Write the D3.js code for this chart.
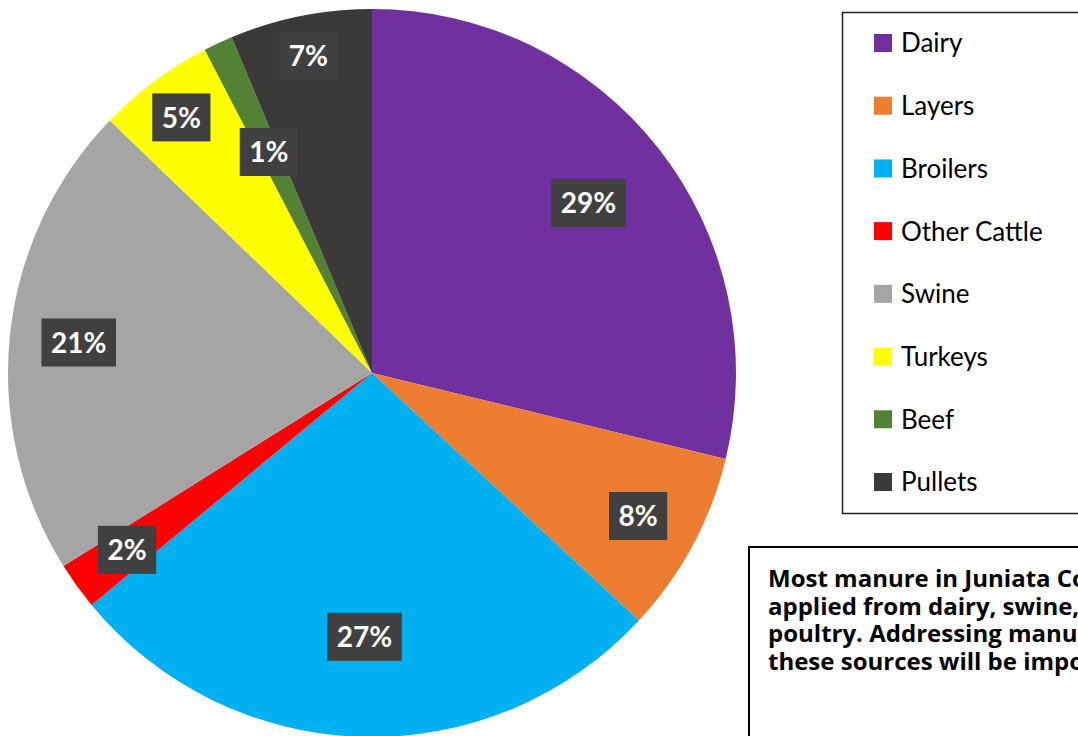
<!DOCTYPE html>
<html>
<head>
<meta charset="utf-8">
<script src="https://cdn.jsdelivr.net/npm/d3@7"></script>
<style>
html,body{margin:0;padding:0;background:#fff;overflow:hidden;}
svg{display:block;}
</style>
</head>
<body>
<svg id="chart" width="1078" height="736"></svg>
<script>
// ---- data ----
const categories = ["Dairy","Layers","Broilers","Other Cattle","Swine","Turkeys","Beef","Pullets"];
const values = [28.8, 8.1, 27.1, 2.1, 21.1, 5.2, 1.3, 6.3];
const percentLabels = ["29%","8%","27%","2%","21%","5%","1%","7%"];
const colors = ["#7030A0","#ED7D31","#00B0F0","#FF0000","#A5A5A5","#FFFF00","#548235","#3B3A39"];
const noteLines = [
  "Most manure in Juniata County is",
  "applied from dairy, swine, and",
  "poultry. Addressing manure from",
  "these sources will be important."
];

// ---- layout ----
const cx = 372, cy = 373, R = 364;
const labelFrac = [0.756, 0.83, 0.725, 0.83, 0.81, 0.876, 0.67, 0.888];
const font = "Lato, 'Open Sans', sans-serif";
const noteFont = "'Open Sans', Lato, sans-serif";

const svg = d3.select("#chart");
const g = svg.append("g").attr("transform", `translate(${cx},${cy})`);

const data = categories.map((c,i)=>({name:c, value:values[i], label:percentLabels[i], color:colors[i], i}));
const pie = d3.pie().sort(null).value(d=>d.value).startAngle(0).endAngle(2*Math.PI);
const arcs = pie(data);
const arc = d3.arc().innerRadius(0).outerRadius(R);

g.selectAll("path.slice").data(arcs).join("path")
  .attr("class","slice")
  .attr("d", arc)
  .attr("fill", d=>d.data.color);

// labels
const lab = g.selectAll("g.lab").data(arcs).join("g").attr("class","lab")
  .attr("transform", d=>{
    const r = R*labelFrac[d.data.i];
    const la = d3.arc().innerRadius(r).outerRadius(r);
    const [x,y] = la.centroid(d);
    return `translate(${x},${y})`;
  });
lab.append("rect")
  .attr("fill","#404040")
  .attr("y",-24).attr("height",48);
lab.append("text")
  .attr("text-anchor","middle")
  .attr("dy","0.36em")
  .attr("fill","#fff")
  .attr("font-family",font)
  .attr("font-weight","bold")
  .attr("font-size",28)
  .text(d=>d.data.label);
lab.each(function(){
  const t = d3.select(this).select("text").node().getComputedTextLength();
  const w = t + 19;
  d3.select(this).select("rect").attr("x",-w/2).attr("width",w);
});

// legend
const legend = svg.append("g");
legend.append("rect")
  .attr("x",842.5).attr("y",12.5).attr("width",260).attr("height",501)
  .attr("fill","#fff").attr("stroke","#222").attr("stroke-width",1.5);
const ly = d3.scalePoint().domain(categories).range([43,482]);
const li = legend.selectAll("g.li").data(data).join("g").attr("class","li")
  .attr("transform", d=>`translate(874,${ly(d.name)})`);
li.append("rect").attr("x",0).attr("y",-9).attr("width",18).attr("height",18).attr("fill",d=>d.color);
li.append("text").attr("x",27).attr("dy","0.36em")
  .attr("font-family",font).attr("font-size",26).attr("fill","#000")
  .text(d=>d.name);

// note box
const note = svg.append("g");
note.append("rect")
  .attr("x",749).attr("y",547).attr("width",400).attr("height",260)
  .attr("fill","#fff").attr("stroke","#000").attr("stroke-width",2);
note.append("text")
  .attr("font-family",noteFont).attr("font-weight","bold").attr("font-size",24).attr("fill","#000")
  .selectAll("tspan").data(noteLines).join("tspan")
  .attr("x",768).attr("y",(d,i)=>587 + i*27.7)
  .text(d=>d);
</script>
</body>
</html>
